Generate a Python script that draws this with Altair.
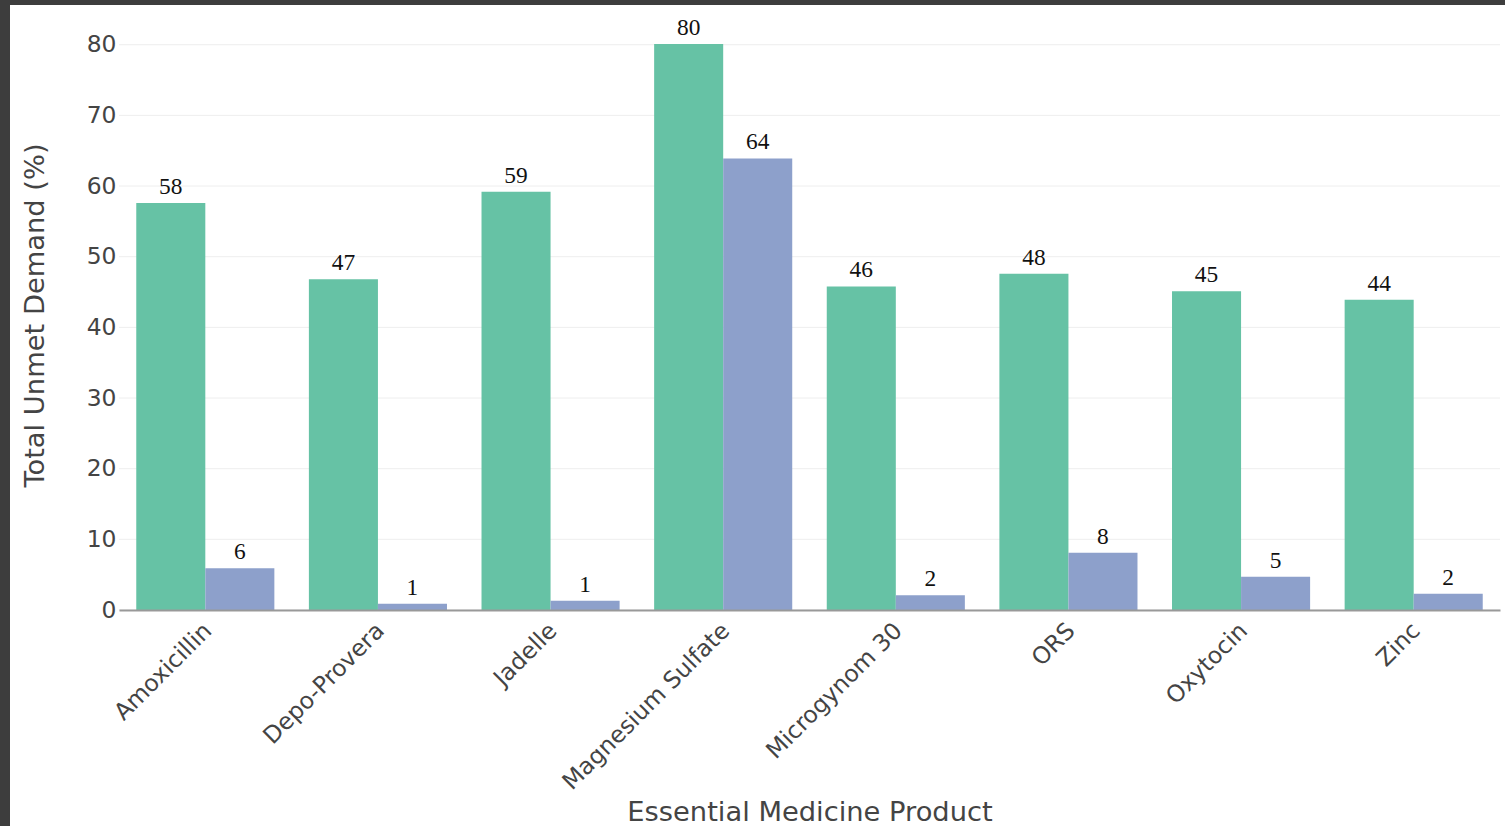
import altair as alt
import pandas as pd

products = ["Amoxicillin", "Depo-Provera", "Jadelle", "Magnesium Sulfate",
            "Microgynom 30", "ORS", "Oxytocin", "Zinc"]
series_names = ["Series 1", "Series 2"]
series1 = [57.6, 46.8, 59.2, 80.1, 45.8, 47.6, 45.1, 43.9]
series2 = [5.9, 0.9, 1.3, 63.9, 2.1, 8.1, 4.7, 2.3]
y_ticks = [0, 10, 20, 30, 40, 50, 60, 70, 80]
colors = ["#66c2a5", "#8da0cb"]

rows = []
for i, p in enumerate(products):
    rows.append({"product": p, "series": series_names[0], "value": series1[i]})
    rows.append({"product": p, "series": series_names[1], "value": series2[i]})
df = pd.DataFrame(rows)
grid_df = pd.DataFrame({"tick": y_ticks})
bg_df = pd.DataFrame({"k": [0]})

W, H = 1381, 590
SANS = "DejaVu Sans"
TICK = 23.4
TITLE = 27.3
Y_TITLE = "Total Unmet Demand (%)"

y_scale = alt.Scale(domain=[0, 83.5], nice=False, zero=True)

x_enc = alt.X(
    "product:N", sort=products, title="Essential Medicine Product",
    scale=alt.Scale(paddingInner=0.2, paddingOuter=0.1),
    axis=alt.Axis(labelAngle=-45, ticks=False, grid=False,
                  domainColor="#999999", domainWidth=2,
                  labelFont=SANS, labelFontSize=TICK, labelColor="#444444",
                  labelPadding=9, labelOffset=-5, labelLimit=0,
                  titleFont=SANS, titleFontSize=TITLE, titleColor="#444444",
                  titleFontWeight="normal", titleY=210,
                  titleBaseline="alphabetic", zindex=1))
xoff = alt.XOffset("series:N", sort=series_names,
                   scale=alt.Scale(paddingInner=0, paddingOuter=0))
y_axis = alt.Axis(values=y_ticks, grid=False, domain=False, ticks=False,
                  labelFont=SANS, labelFontSize=TICK, labelColor="#444444",
                  labelPadding=3,
                  titleFont=SANS, titleFontSize=TITLE, titleColor="#444444",
                  titleFontWeight="normal", titleX=-76, titleY=H / 2,
                  titleAngle=270, titleAlign="center",
                  titleBaseline="alphabetic", zindex=1)
y_enc = alt.Y("value:Q", scale=y_scale, title=Y_TITLE, axis=y_axis)

bg = alt.Chart(bg_df).mark_rect(color="white").encode(
    x=alt.value(-109), x2=alt.value(W + 30),
    y=alt.value(-15), y2=alt.value(H + 240))

grid = alt.Chart(grid_df).mark_rule(color="#eeeeee", strokeWidth=1).encode(
    y=alt.Y("tick:Q", scale=y_scale, title=Y_TITLE, axis=y_axis))

bars = alt.Chart(df).mark_bar().encode(
    x=x_enc, xOffset=xoff, y=y_enc,
    color=alt.Color("series:N", scale=alt.Scale(domain=series_names, range=colors),
                    legend=None))

text = alt.Chart(df).mark_text(font="Liberation Serif", fontSize=23.4,
                               color="#111111", baseline="alphabetic", dy=-9).encode(
    x=x_enc, xOffset=xoff, y=y_enc,
    text=alt.Text("value:Q", format=".0f"))

chart = alt.layer(bg, grid, bars, text).properties(
    width=W, height=H,
    autosize=alt.AutoSizeParams(type="none"),
    padding={"left": 119, "top": 20, "right": 5, "bottom": 216},
    background="#3d3d3d",
).configure_view(stroke=None)

chart.save("out.html", embed_options={"renderer": "svg", "actions": False})
